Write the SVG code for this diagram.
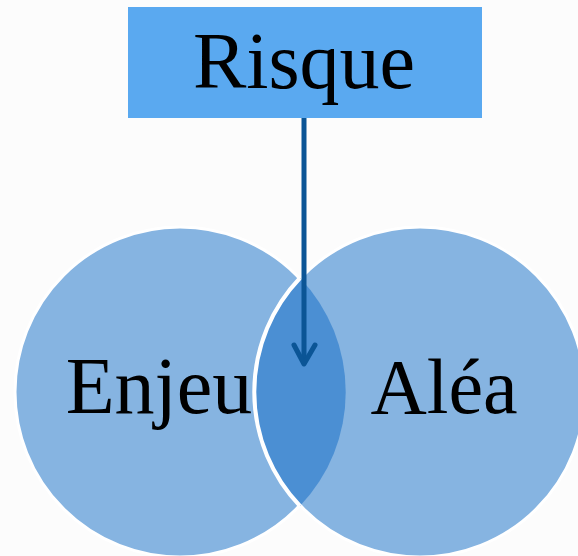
<svg xmlns="http://www.w3.org/2000/svg" width="578" height="556" viewBox="0 0 578 556">
  <style>
    .label { font-family: "Liberation Serif", "DejaVu Serif", serif; fill: #000; text-anchor: middle; }
    .circle { fill: #86b4e1; stroke: #ffffff; stroke-width: 3; }
    .connector { stroke: #0b5596; stroke-width: 5; fill: none; }
  </style>
  <rect x="0" y="0" width="578" height="556" fill="#fcfcfc"/>

  <g id="enjeu">
    <circle class="circle" cx="180" cy="392" r="165"/>
  </g>
  <g id="alea">
    <circle class="circle" cx="420" cy="392" r="165"/>
  </g>
  <g id="overlap">
    <!-- lens shared by both circles -->
    <path d="M300,278 A165,165 0 0 0 300,506 A165,165 0 0 0 300,278 Z" fill="#4b8fd3"/>
    <path d="M300,278 A165,165 0 0 0 300,506" fill="none" stroke="#ffffff" stroke-width="4"/>
  </g>
  <text class="label" x="159" y="413" font-size="80">Enjeu</text>
  <text class="label" x="444" y="413" font-size="78">Aléa</text>

  <g id="risque">
    <rect x="128" y="7" width="354" height="111" fill="#5aa9f0"/>
    <text class="label" x="304" y="88" font-size="80">Risque</text>
  </g>

  <g id="connectors">
    <line class="connector" x1="304" y1="118" x2="304" y2="364"/>
    <polyline class="connector" points="294,345 304,364 315,345" stroke-linecap="round" stroke-linejoin="round"/>
  </g>
</svg>
